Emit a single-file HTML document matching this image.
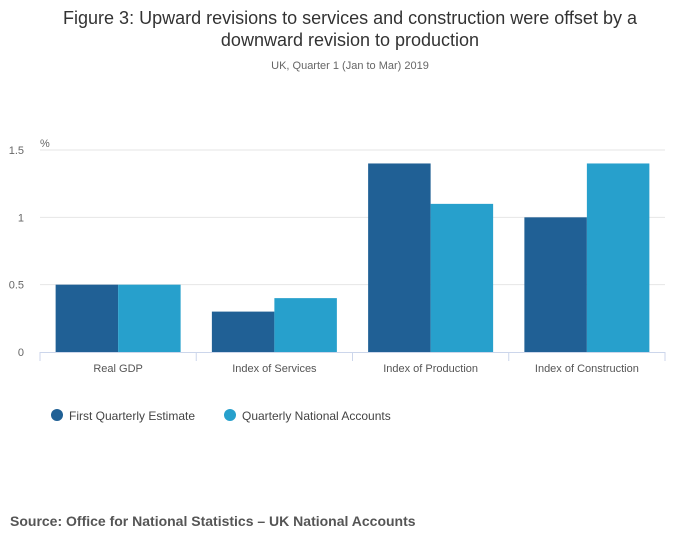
<!DOCTYPE html>
<html><head><meta charset="utf-8"><style>
body{margin:0;background:#fff;font-family:"Liberation Sans",sans-serif;}
</style></head><body>
<svg width="700" height="549" xmlns="http://www.w3.org/2000/svg" id="svg">
<text x="350" y="24" text-anchor="middle" font-size="18" fill="#333">Figure 3: Upward revisions to services and construction were offset by a</text>
<text x="350" y="46" text-anchor="middle" font-size="18" fill="#333">downward revision to production</text>
<text x="350" y="69" text-anchor="middle" font-size="11" fill="#666">UK, Quarter 1 (Jan to Mar) 2019</text>
<text x="40" y="147" font-size="11" fill="#666">%</text>
<g id="grid"></g><g id="bars"></g><g id="xaxis"></g>
<circle cx="57" cy="415" r="6" fill="#206095"/>
<text x="69" y="420" font-size="12" fill="#444">First Quarterly Estimate</text>
<circle cx="230" cy="415" r="6" fill="#27a0cc"/>
<text x="242" y="420" font-size="12" fill="#444">Quarterly National Accounts</text>
<text x="10" y="526" font-size="14" font-weight="bold" fill="#555">Source: Office for National Statistics – UK National Accounts</text>
</svg>
<script>
const categories=["Real GDP","Index of Services","Index of Production","Index of Construction"];
const firstEstimate=[0.5,0.3,1.4,1.0];
const qna=[0.5,0.4,1.1,1.4];
const yTicks=[0,0.5,1,1.5];
const NS="http://www.w3.org/2000/svg";
const x0=40,x1=665,y0=352,yTop=150,yMax=1.5;
const y=v=>y0-(v/yMax)*(y0-yTop);
const band=(x1-x0)/categories.length;
function mk(t,a,p){const e=document.createElementNS(NS,t);for(const k in a)e.setAttribute(k,a[k]);p.appendChild(e);return e;}
const grid=document.getElementById('grid'),bars=document.getElementById('bars'),xa=document.getElementById('xaxis');
yTicks.forEach(t=>{
 if(t>0){const l=mk('line',{x1:x0,x2:x1,y1:y(t),y2:y(t),stroke:'#e6e6e6'},grid);
 
 }
 const tx=mk('text',{x:24,y:y(t)+4,'text-anchor':'end','font-size':11,fill:'#666'},grid);tx.textContent=t;
 
 
});
const bw=band*0.4,pad=band*0.1;
categories.forEach((c,i)=>{
 const bx=x0+i*band+pad;
 const r1=mk('rect',{x:bx,y:y(firstEstimate[i]),width:bw,height:y0-y(firstEstimate[i]),fill:'#206095'},bars);
 
 
 const r2=mk('rect',{x:bx+bw,y:y(qna[i]),width:bw,height:y0-y(qna[i]),fill:'#27a0cc'},bars);
 
 
 const t=mk('text',{x:x0+i*band+band/2,y:372,'text-anchor':'middle','font-size':11,fill:'#555'},xa);t.textContent=c;
 
 
});
const ax=mk('line',{x1:x0,x2:x1,y1:y0+0.5,y2:y0+0.5,stroke:'#ccd6eb'},xa);


for(let i=0;i<=categories.length;i++){const tk=mk('line',{x1:x0+i*band,x2:x0+i*band,y1:y0,y2:y0+9,stroke:'#ccd6eb'},xa);
 
 }
</script>
</body></html>
